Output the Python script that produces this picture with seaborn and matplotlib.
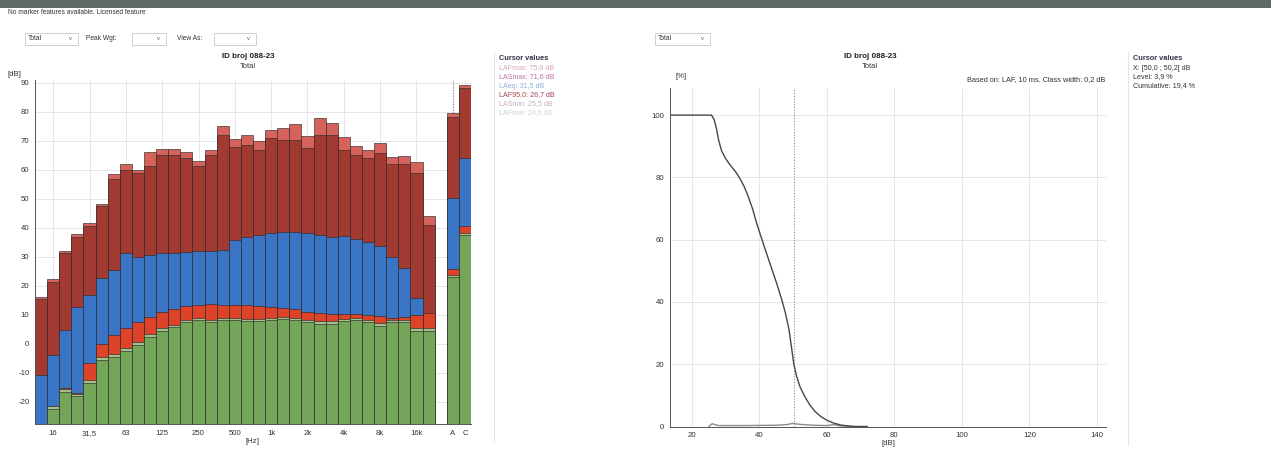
import matplotlib
matplotlib.use("Agg")
import matplotlib.pyplot as plt
import seaborn as sns
from matplotlib.patches import Rectangle
from matplotlib.lines import Line2D

# ---------------- data ----------------
bands = ["12.5", "16", "20", "25", "31.5", "40", "50", "63", "80", "100", "125",
         "160", "200", "250", "315", "400", "500", "630", "800", "1k", "1.25k",
         "1.6k", "2k", "2.5k", "3.15k", "4k", "5k", "6.3k", "8k", "10k", "12.5k",
         "16k", "20k"]
summary = ["A", "C"]

laf_max = [16.3, 22.3, 32.2, 37.8, 41.6, 48.2, 58.5, 62.0, 60.0, 66.3, 67.1, 67.1,
           66.1, 63.1, 66.9, 75.2, 70.7, 72.1, 69.8, 73.8, 74.4, 75.8, 71.8, 77.8,
           76.3, 71.5, 68.4, 66.7, 69.2, 64.6, 64.8, 62.7, 44.1, 79.5, 89.2]
las_max = [15.5, 21.5, 31.5, 37.0, 40.8, 47.5, 57.0, 60.0, 58.8, 61.5, 65.0, 65.0,
           64.0, 61.5, 65.0, 72.0, 68.0, 68.6, 67.0, 71.0, 70.4, 70.4, 67.6, 72.0,
           72.0, 67.0, 65.0, 64.0, 66.0, 62.0, 62.0, 58.8, 41.0, 78.3, 88.3]
laeq = [-10.7, -3.8, 4.8, 12.6, 16.9, 22.6, 25.5, 31.3, 30.1, 30.7, 31.3, 31.5,
        31.8, 32.2, 32.2, 32.4, 35.7, 36.9, 37.5, 38.2, 38.5, 38.6, 38.1, 37.4,
        36.8, 37.1, 36.3, 35.2, 33.6, 30.1, 26.1, 15.7, 8.5, 50.2, 64.0]
laf95 = [-28.0, -21.3, -15.3, -17.0, -6.6, 0.0, 3.0, 5.5, 7.5, 9.2, 11.0, 12.0,
         13.0, 13.5, 13.8, 13.5, 13.5, 13.4, 13.2, 12.8, 12.5, 12.0, 11.0, 10.5,
         10.3, 10.3, 10.2, 10.0, 9.6, 9.0, 9.2, 10.0, 10.5, 26.0, 40.8]
las_min = [-28.0, -21.5, -15.6, -17.2, -12.5, -4.5, -3.5, -1.5, 0.5, 3.5, 5.5, 6.7,
           8.4, 9.0, 8.4, 9.0, 9.0, 8.6, 8.6, 9.0, 9.4, 9.0, 8.4, 7.9, 7.9, 8.6,
           9.0, 8.4, 7.2, 8.4, 8.4, 5.5, 5.5, 23.8, 38.2]
laf_min = [-28.0, -22.5, -16.5, -18.0, -13.5, -5.5, -4.5, -2.5, -0.5, 2.5, 4.5, 5.8,
           7.5, 8.2, 7.5, 8.2, 8.2, 7.8, 7.8, 8.2, 8.6, 8.2, 7.5, 7.0, 7.0, 7.8,
           8.2, 7.5, 6.3, 7.5, 7.5, 4.6, 4.6, 23.0, 37.4]

tick_bands = ["16", "31.5", "63", "125", "250", "500", "1k", "2k", "4k", "8k", "16k", "A", "C"]
xtick_labels = ["16", "31,5", "63", "125", "250", "500", "1k", "2k", "4k", "8k", "16k", "A", "C"]
left_yticks = [-20, -10, 0, 10, 20, 30, 40, 50, 60, 70, 80, 90]

cum_level_db = [13.5, 25.8, 26.6, 27.3, 27.9, 28.8, 30.0, 31.3, 32.8, 34.2, 35.5,
                36.7, 38.0, 39.2, 40.6, 42.1, 43.6, 45.1, 46.4, 47.6, 48.7,
                49.5, 50.2, 51.0, 52.0, 53.5, 55.0, 56.5, 58.2, 60.0, 62.0, 64.0,
                66.0, 68.0, 72.0]
cum_pct = [100, 100, 98.5, 95.5, 92.0, 88.5, 86.0, 84.0, 82.0, 79.7, 77.0,
           73.8, 69.8, 65.2, 60.5, 55.6, 50.8, 46.0, 41.5, 36.9, 31.5,
           25.5, 20.0, 16.2, 12.8, 9.5, 6.8, 4.8, 3.2, 2.0, 1.1, 0.5,
           0.2, 0.0, 0.0]
dist_level_db = [25.0, 26.0, 27.0, 28.0, 30.0, 35.0, 40.0, 45.0, 48.0, 50.0, 51.0,
                 53.0, 56.0, 60.0, 62.0, 64.0, 68.0]
dist_pct = [0.0, 0.9, 0.5, 0.3, 0.3, 0.3, 0.35, 0.4, 0.6, 1.0, 0.8, 0.6, 0.4, 0.3,
            0.6, 0.2, 0.0]
right_xticks = [20, 40, 60, 80, 100, 120, 140]
right_yticks = [0, 20, 40, 60, 80, 100]

left_cursor_lines = ["LAFmax: 75,0 dB", "LASmax: 71,6 dB", "LAeq: 31,5 dB",
                     "LAF95,0: 26,7 dB", "LASmin: 25,5 dB", "LAFmin: 24,6 dB"]
left_cursor_colors = ["#d4a3bb", "#b4739d", "#8fb0dd", "#a8404c", "#c9a9c2", "#d4d4d4"]
right_cursor_lines = ["X: [50,0 ; 50,2[ dB", "Level: 3,9 %", "Cumulative: 19,4 %"]
cursor_x_db = 50.1

# ---------------- style ----------------
sns.set_style("white")
plt.rcParams["font.family"] = ["Liberation Sans", "DejaVu Sans"]
W, H = 1271, 451
fig = plt.figure(figsize=(W / 100, H / 100), dpi=100)


def fx(px):
    return px / W


def fy(py):
    return 1 - py / H


TXT = "#333333"
GRID = "#e2e2e2"

# header strip
fig.add_artist(Rectangle((0, fy(8)), 1, 8 / H, transform=fig.transFigure,
                         facecolor="#5d6867", edgecolor="none"))
fig.text(fx(8), fy(13), "No marker features available. Licensed feature",
         fontsize=4.8, color=TXT, va="center")


def dropdown(x0, x1, y0, y1, label):
    fig.add_artist(Rectangle((fx(x0), fy(y1)), (x1 - x0) / W, (y1 - y0) / H,
                             transform=fig.transFigure, facecolor="white",
                             edgecolor="#c9c9c9", lw=0.6))
    if label:
        fig.text(fx(x0 + 3), fy((y0 + y1) / 2), label, fontsize=4.8, color=TXT, va="center")
    fig.text(fx(x1 - 9), fy((y0 + y1) / 2), "v", fontsize=4.2, color="#666666", va="center")


dropdown(25, 78, 33, 45, "Total")
fig.text(fx(86), fy(39), "Peak Wgt:", fontsize=4.8, color=TXT, va="center")
dropdown(132, 166, 33, 45, "")
fig.text(fx(177), fy(39), "View As:", fontsize=4.8, color=TXT, va="center")
dropdown(214, 256, 33, 45, "")
dropdown(655, 710, 33, 45, "Total")

# ---------------- left: spectrum ----------------
YMIN, YMAX = -27.6, 91.0
ax1 = fig.add_axes([fx(35), fy(424), 436 / W, (424 - 80) / H])
order = bands + [" "] + summary
cats = bands + summary
series = [(laf_max, "#d6625c"), (las_max, "#a33a31"), (laeq, "#3a74c4"),
          (laf95, "#dd4329"), (las_min, "#a3bf8c"), (laf_min, "#74a659")]
ax1.set_axisbelow(True)
ax1.axvline(order.index("A"), color="#8a8a8a", ls=(0, (1, 1.5)), lw=0.8, zorder=0.6)
for vals, col in series:
    heights = [max(v - YMIN, 0) for v in vals]
    sns.barplot(x=cats, y=heights, order=order, color=col, width=1.0, bottom=YMIN,
                edgecolor="#2f2a2a", linewidth=0.45, errorbar=None, saturation=1,
                ax=ax1)
ax1.set_ylim(YMIN, YMAX)
ax1.set_xlim(-0.5, len(order) - 0.5)
ax1.set_xticks([order.index(b) for b in tick_bands])
ax1.set_xticklabels(xtick_labels)
ax1.set_yticks(left_yticks)
ax1.set_yticklabels([str(v) for v in left_yticks])
ax1.grid(True, color=GRID, lw=0.6)
ax1.tick_params(labelsize=5.6, colors=TXT, length=2, width=0.5, pad=2)
for s in ["top", "right"]:
    ax1.spines[s].set_visible(False)
for s in ["left", "bottom"]:
    ax1.spines[s].set_color("#555555")
    ax1.spines[s].set_linewidth(0.7)
ax1.set_xlabel("[Hz]", fontsize=5.6, color=TXT, labelpad=1)
ax1.set_ylabel("")
fig.text(fx(8), fy(75), "[dB]", fontsize=5.6, color=TXT, va="center")
fig.text(fx(248), fy(57), "ID broj 088-23", fontsize=5.8, fontweight="bold",
         color="#222222", ha="center", va="center")
fig.text(fx(248), fy(66), "Total", fontsize=5.4, color=TXT, ha="center", va="center")

# left cursor panel
fig.add_artist(Line2D([fx(494), fx(494)], [fy(52), fy(442)], transform=fig.transFigure,
                      color="#e4e4e4", lw=0.8))
fig.text(fx(499), fy(59), "Cursor values", fontsize=5.3, fontweight="bold",
         color="#333344", va="center")
for i, (t, c) in enumerate(zip(left_cursor_lines, left_cursor_colors)):
    fig.text(fx(499), fy(68 + 9 * i), t, fontsize=5.1, color=c, va="center")

# ---------------- right: distribution ----------------
ax2 = fig.add_axes([fx(670), fy(426.5), 436 / W, (426.5 - 88) / H])
ax2.set_axisbelow(True)
ax2.axvline(cursor_x_db, color="#8a8a8a", ls=(0, (1, 1.5)), lw=0.8, zorder=1)
sns.lineplot(x=dist_level_db, y=dist_pct, color="#8c8c8c", lw=1.0, estimator=None,
             ax=ax2)
sns.lineplot(x=cum_level_db, y=cum_pct, color="#474747", lw=1.0, estimator=None,
             ax=ax2)
ax2.set_xlim(13.5, 142.7)
ax2.set_ylim(0, 108.7)
ax2.set_xticks(right_xticks)
ax2.set_yticks(right_yticks)
ax2.grid(True, color=GRID, lw=0.6)
ax2.tick_params(labelsize=5.6, colors=TXT, length=2, width=0.5, pad=2)
for s in ["top", "right"]:
    ax2.spines[s].set_visible(False)
for s in ["left", "bottom"]:
    ax2.spines[s].set_color("#555555")
    ax2.spines[s].set_linewidth(0.7)
ax2.set_xlabel("[dB]", fontsize=5.6, color=TXT, labelpad=1)
ax2.set_ylabel("")
fig.text(fx(676), fy(76), "[%]", fontsize=5.6, color=TXT, va="center")
fig.text(fx(870), fy(57), "ID broj 088-23", fontsize=5.8, fontweight="bold",
         color="#222222", ha="center", va="center")
fig.text(fx(870), fy(66), "Total", fontsize=5.4, color=TXT, ha="center", va="center")
fig.text(fx(1105), fy(80), "Based on: LAF, 10 ms. Class width: 0,2 dB", fontsize=5.3,
         color=TXT, ha="right", va="center")

fig.add_artist(Line2D([fx(1128), fx(1128)], [fy(52), fy(445)], transform=fig.transFigure,
                      color="#e4e4e4", lw=0.8))
fig.text(fx(1133), fy(59), "Cursor values", fontsize=5.3, fontweight="bold",
         color="#333344", va="center")
for i, t in enumerate(right_cursor_lines):
    fig.text(fx(1133), fy(68 + 9 * i), t, fontsize=5.1, color=TXT, va="center")

fig.savefig("out.png", dpi=100)
